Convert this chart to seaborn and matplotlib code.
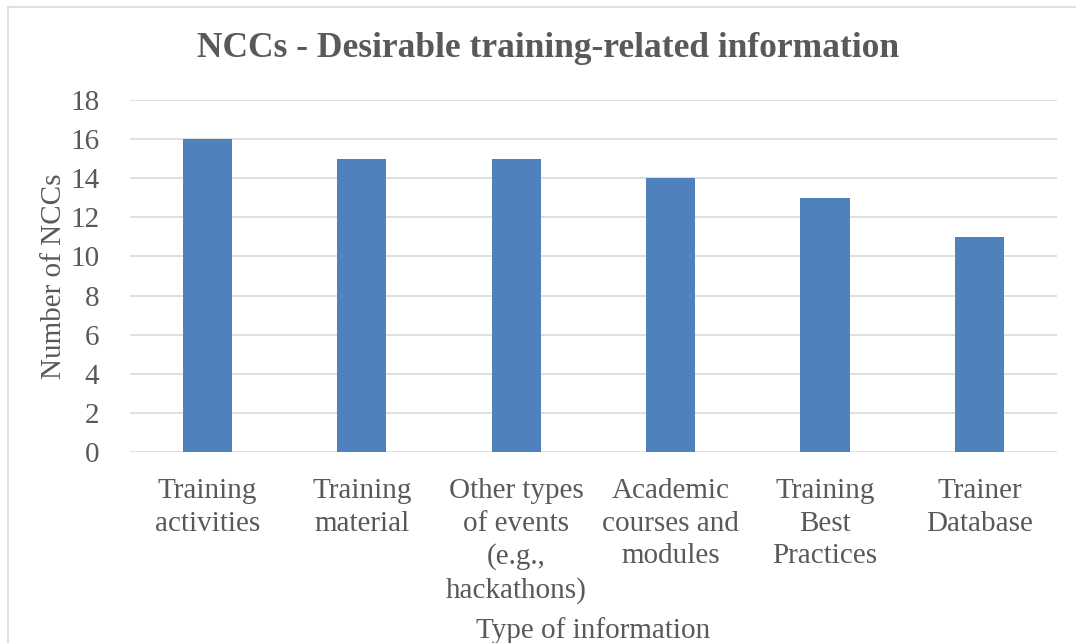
import matplotlib.pyplot as plt
import matplotlib.patches as mpatches
import pandas as pd
import seaborn as sns

# Data
categories = ["Training\nactivities", "Training\nmaterial", "Other types\nof events\n(e.g.,\nhackathons)",
              "Academic\ncourses and\nmodules", "Training\nBest\nPractices", "Trainer\nDatabase"]
values = [16, 15, 15, 14, 13, 11]
y_ticks = [0, 2, 4, 6, 8, 10, 12, 14, 16, 18]

df = pd.DataFrame({"Type of information": categories, "Number of NCCs": values})

sns.set_style("white")
plt.rcParams["font.family"] = ["Liberation Serif", "DejaVu Serif"]
text_color = "#595959"

fig = plt.figure(figsize=(10.76, 6.43), dpi=100)
ax = fig.add_axes([0.1208, 0.297, 0.8615, 0.5475])

sns.barplot(ax=ax, data=df, x="Type of information", y="Number of NCCs",
            color="#4F81BD", saturation=1, width=0.32, linewidth=0, zorder=3)

ax.set_ylim(0, 18)
ax.set_yticks(y_ticks)
ax.set_xlim(-0.5, len(categories) - 0.5)
ax.yaxis.grid(True, color="#D9D9D9", linewidth=1.2, zorder=0)
ax.set_axisbelow(True)
for s in ax.spines.values():
    s.set_visible(False)
ax.tick_params(axis="both", length=0, colors=text_color, labelsize=21)
ax.tick_params(axis="x", pad=19)
ax.tick_params(axis="y", pad=22)
for lbl in ax.get_xticklabels():
    lbl.set_linespacing(1.32)

ax.set_xlabel("Type of information", fontsize=21, color=text_color, labelpad=0)
ax.xaxis.set_label_coords(0.5, -0.468)
ax.set_ylabel("Number of NCCs", fontsize=21, color=text_color)
ax.yaxis.set_label_coords(-0.068, 0.5)

fig.text(0.509, 0.925, "NCCs - Desirable training-related information", ha="center", va="center",
         fontsize=25.5, fontweight="bold", color=text_color)

# light chart-area border
fig.patches.append(mpatches.Rectangle((8 / 1076, -0.01), 1.1, 1 - 7 / 643 + 0.01,
                                      transform=fig.transFigure, fill=False,
                                      edgecolor="#D9D9D9", linewidth=1.2))

fig.savefig("out.png", dpi=100)
